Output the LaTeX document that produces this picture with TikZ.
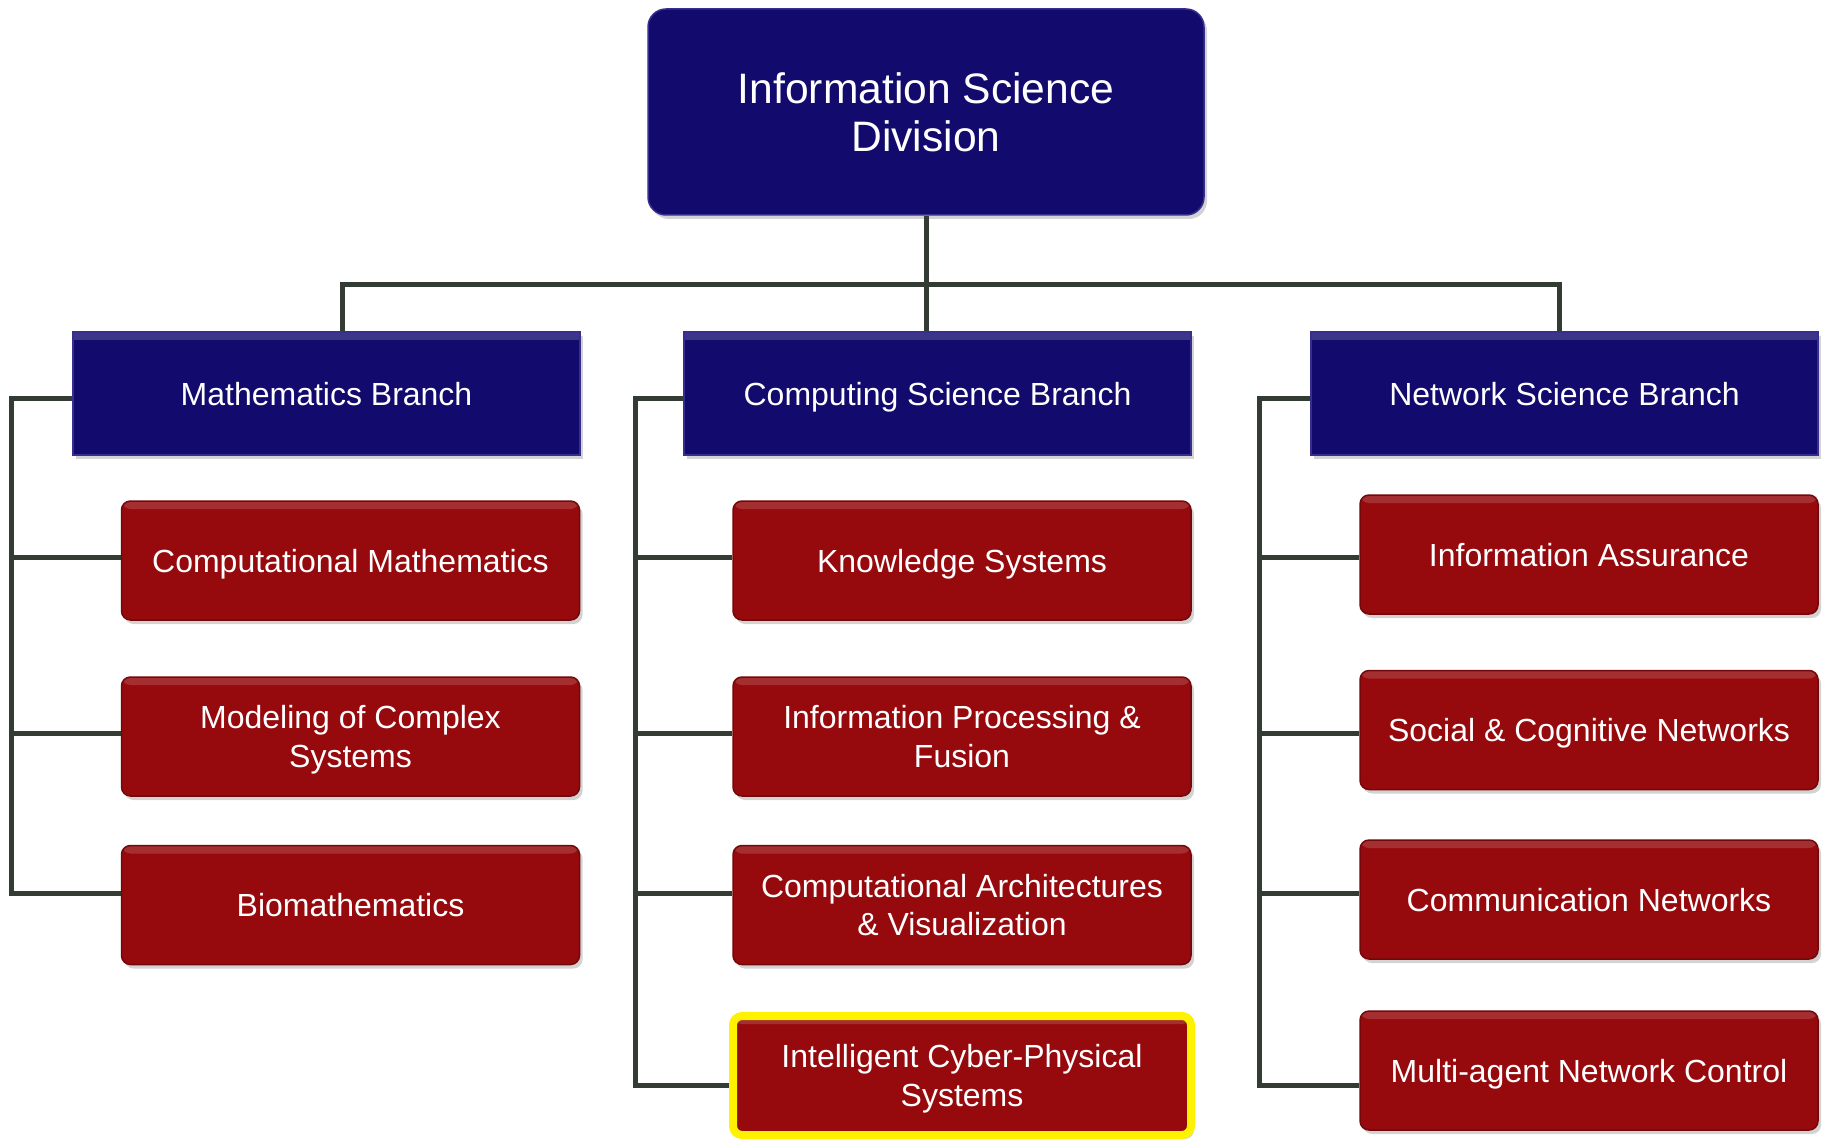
\documentclass[tikz,border=0pt]{standalone}
\usepackage{fontspec}
\setmainfont{Liberation Sans}
\usetikzlibrary{shadows}
\newlength{\du}
\setlength{\du}{0.5pt}

\begin{document}
\begin{tikzpicture}[x=\du,y=-\du,
  divbox/.style={draw=divlinecolor,line width=1.5\du,fill=divfillcolor,
    rounded corners=18\du,text=white,align=center,text depth=0pt,
    minimum width=556\du,minimum height=206\du,inner sep=0pt,
    font=\fontsize{21.3pt}{24pt}\selectfont,
    drop shadow={shadow xshift=3\du,shadow yshift=-4\du,opacity=0.35}},
  branchbox/.style={draw=divlinecolor,line width=1.5\du,fill=divfillcolor,
    text=white,align=center,text depth=0pt,
    minimum width=507\du,minimum height=123\du,inner sep=0pt,
    font=\fontsize{16pt}{19.2pt}\selectfont,
    path picture={\fill[white,opacity=0.18] (path picture bounding box.north west)
      rectangle ([yshift=-4pt]path picture bounding box.north east);},
    drop shadow={shadow xshift=3\du,shadow yshift=-4\du,opacity=0.35}},
  teambox/.style={draw=teamlinecolor,line width=1.5\du,fill=teamfillcolor,
    rounded corners=9\du,text=white,align=center,text depth=0pt,
    minimum width=458\du,minimum height=119\du,inner sep=0pt,
    font=\fontsize{16pt}{19.2pt}\selectfont,
    path picture={\fill[white,opacity=0.15] (path picture bounding box.north west)
      rectangle ([yshift=-4pt]path picture bounding box.north east);},
    drop shadow={shadow xshift=3\du,shadow yshift=-4\du,opacity=0.35}},
  hilite/.style={draw=yellow,line width=8\du},
  conn/.style={draw=connlinecolor,line width=5\du}]
\definecolor{divfillcolor}{rgb}{0.075,0.039,0.431}
\definecolor{divlinecolor}{rgb}{0.220,0.180,0.560}
\definecolor{teamfillcolor}{rgb}{0.588,0.039,0.055}
\definecolor{teamlinecolor}{rgb}{0.450,0.030,0.040}
\definecolor{connlinecolor}{rgb}{0.200,0.235,0.200}
\useasboundingbox (0,0) rectangle (1824,1139);

% division and branches
\node[divbox] (div) at (926,112) {Information Science\\Division};
\node[branchbox] (math) at (326.5,393.5) {Mathematics Branch};
\node[branchbox] (comp) at (937.5,393.5) {Computing Science Branch};
\node[branchbox] (net) at (1564.5,393.5) {Network Science Branch};

% teams
\node[teambox] (cmath) at (350.5,560.5) {Computational Mathematics};
\node[teambox] (model) at (350.5,736.5) {Modeling of Complex\\Systems};
\node[teambox] (biom) at (350.5,905) {Biomathematics};
\node[teambox] (know) at (962,560.5) {Knowledge Systems};
\node[teambox] (fusion) at (962,736.5) {Information Processing \&\\Fusion};
\node[teambox] (arch) at (962,905) {Computational Architectures\\\& Visualization};
\node[teambox,hilite] (cps) at (962,1075.5) {Intelligent Cyber-Physical\\Systems};
\node[teambox] (assur) at (1589,554.5) {Information Assurance};
\node[teambox] (social) at (1589,730) {Social \& Cognitive Networks};
\node[teambox] (commnet) at (1589,899.5) {Communication Networks};
\node[teambox] (agent) at (1589,1070.5) {Multi-agent Network Control};

% connectors
\coordinate (busl) at (342,284);
\coordinate (busr) at (1559,284);
\coordinate (mspine) at (11,398);
\coordinate (cspine) at (635,398);
\coordinate (nspine) at (1259,398);
\coordinate (row1) at (0,557);
\coordinate (row2) at (0,733);
\coordinate (row3) at (0,893);
\coordinate (row4) at (0,1085);
\draw[conn] (div.south) -- (div.south |- comp.north);
\draw[conn] (busl |- math.north) -- (busl) -- (busr) -- (busr |- net.north);
\draw[conn] (math.west |- mspine) -- (mspine) -- (mspine |- row3) -- (biom.west |- row3);
\draw[conn] (comp.west |- cspine) -- (cspine) -- (cspine |- row4) -- (cps.west |- row4);
\draw[conn] (net.west |- nspine) -- (nspine) -- (nspine |- row4) -- (agent.west |- row4);
\foreach \t/\r in {cmath/row1,model/row2}
  \draw[conn] (mspine |- \r) -- (\t.west |- \r);
\foreach \t/\r in {know/row1,fusion/row2,arch/row3}
  \draw[conn] (cspine |- \r) -- (\t.west |- \r);
\foreach \t/\r in {assur/row1,social/row2,commnet/row3}
  \draw[conn] (nspine |- \r) -- (\t.west |- \r);
\end{tikzpicture}
\end{document}
